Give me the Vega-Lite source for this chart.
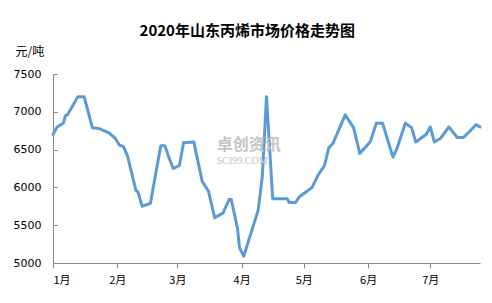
{
  "$schema": "https://vega.github.io/schema/vega-lite/v6.json",
  "width": 427,
  "height": 189,
  "autosize": {"type": "none"},
  "padding": {"left": 53, "top": 74, "right": 12, "bottom": 40},
  "background": "white",
  "title": {
    "text": "2020年山东丙烯市场价格走势图",
    "font": "Noto Sans CJK SC",
    "fontSize": 15,
    "fontWeight": "bold",
    "color": "#000000",
    "anchor": "middle",
    "frame": "bounds",
    "offset": 8,
    "dy": 2
  },
  "config": {
    "view": {"stroke": null},
    "axis": {"grid": false, "domainColor": "#868686", "tickColor": "#868686", "labelColor": "#000000", "labelFont": "DejaVu Sans", "labelFontSize": 11, "labelOverlap": false}
  },
  "layer": [
    {
      "data": {
        "values": [
          {"date": "2020-01-01", "price": 6700},
          {"date": "2020-01-03", "price": 6800},
          {"date": "2020-01-06", "price": 6850},
          {"date": "2020-01-07", "price": 6950},
          {"date": "2020-01-08", "price": 6960},
          {"date": "2020-01-13", "price": 7200},
          {"date": "2020-01-16", "price": 7200},
          {"date": "2020-01-17", "price": 7100},
          {"date": "2020-01-20", "price": 6790},
          {"date": "2020-01-23", "price": 6780},
          {"date": "2020-01-28", "price": 6720},
          {"date": "2020-01-31", "price": 6650},
          {"date": "2020-02-02", "price": 6560},
          {"date": "2020-02-04", "price": 6540},
          {"date": "2020-02-06", "price": 6410},
          {"date": "2020-02-10", "price": 5960},
          {"date": "2020-02-11", "price": 5940},
          {"date": "2020-02-13", "price": 5750},
          {"date": "2020-02-17", "price": 5790},
          {"date": "2020-02-20", "price": 6250},
          {"date": "2020-02-22", "price": 6550},
          {"date": "2020-02-24", "price": 6550},
          {"date": "2020-02-26", "price": 6390},
          {"date": "2020-02-28", "price": 6250},
          {"date": "2020-03-02", "price": 6290},
          {"date": "2020-03-04", "price": 6590},
          {"date": "2020-03-09", "price": 6600},
          {"date": "2020-03-10", "price": 6460},
          {"date": "2020-03-13", "price": 6080},
          {"date": "2020-03-16", "price": 5950},
          {"date": "2020-03-19", "price": 5600},
          {"date": "2020-03-23", "price": 5660},
          {"date": "2020-03-26", "price": 5840},
          {"date": "2020-03-27", "price": 5840},
          {"date": "2020-03-30", "price": 5460},
          {"date": "2020-03-31", "price": 5200},
          {"date": "2020-04-02", "price": 5090},
          {"date": "2020-04-09", "price": 5700},
          {"date": "2020-04-11", "price": 6150},
          {"date": "2020-04-13", "price": 7200},
          {"date": "2020-04-16", "price": 5850},
          {"date": "2020-04-23", "price": 5850},
          {"date": "2020-04-24", "price": 5800},
          {"date": "2020-04-27", "price": 5800},
          {"date": "2020-04-29", "price": 5880},
          {"date": "2020-05-02", "price": 5940},
          {"date": "2020-05-05", "price": 6000},
          {"date": "2020-05-08", "price": 6170},
          {"date": "2020-05-11", "price": 6290},
          {"date": "2020-05-13", "price": 6520},
          {"date": "2020-05-15", "price": 6580},
          {"date": "2020-05-21", "price": 6960},
          {"date": "2020-05-25", "price": 6790},
          {"date": "2020-05-28", "price": 6450},
          {"date": "2020-05-31", "price": 6540},
          {"date": "2020-06-02", "price": 6600},
          {"date": "2020-06-05", "price": 6850},
          {"date": "2020-06-08", "price": 6850},
          {"date": "2020-06-13", "price": 6400},
          {"date": "2020-06-15", "price": 6520},
          {"date": "2020-06-19", "price": 6850},
          {"date": "2020-06-22", "price": 6790},
          {"date": "2020-06-24", "price": 6600},
          {"date": "2020-06-29", "price": 6700},
          {"date": "2020-07-01", "price": 6800},
          {"date": "2020-07-03", "price": 6600},
          {"date": "2020-07-06", "price": 6650},
          {"date": "2020-07-10", "price": 6800},
          {"date": "2020-07-14", "price": 6660},
          {"date": "2020-07-17", "price": 6660},
          {"date": "2020-07-20", "price": 6740},
          {"date": "2020-07-23", "price": 6830},
          {"date": "2020-07-25", "price": 6800}
        ]
      },
      "mark": {"type": "line", "color": "#5B9BD5", "strokeWidth": 3, "strokeJoin": "round", "strokeCap": "round"},
      "encoding": {
        "x": {
          "field": "date",
          "type": "temporal",
          "scale": {
            "type": "utc",
            "domain": [
              {"year": 2020, "month": 1, "date": 1, "utc": true},
              {"year": 2020, "month": 7, "date": 25, "utc": true}
            ]
          },
          "axis": {
            "title": null,
            "values": [
              {"year": 2020, "month": 1, "date": 1, "utc": true},
              {"year": 2020, "month": 2, "date": 1, "utc": true},
              {"year": 2020, "month": 3, "date": 1, "utc": true},
              {"year": 2020, "month": 4, "date": 1, "utc": true},
              {"year": 2020, "month": 5, "date": 1, "utc": true},
              {"year": 2020, "month": 6, "date": 1, "utc": true},
              {"year": 2020, "month": 7, "date": 1, "utc": true}
            ],
            "labelExpr": "(utcmonth(datum.value) + 1) + '月'",
            "tickSize": 5,
            "labelPadding": 6,
            "labelFont": "Noto Sans CJK SC"
          }
        },
        "y": {
          "field": "price",
          "type": "quantitative",
          "scale": {"domain": [5000, 7500], "nice": false, "zero": false},
          "axis": {
            "values": [5000, 5500, 6000, 6500, 7000, 7500],
            "tickCount": 6,
            "labelOverlap": false,
            "labelFlush": false,
            "format": "d",
            "tickSize": -4,
            "labelPadding": 16,
            "title": "元/吨",
            "titleAngle": 0,
            "titleAlign": "left",
            "titleBaseline": "middle",
            "titleX": -38,
            "titleY": -23,
            "titleFont": "Noto Sans CJK SC",
            "titleFontSize": 12,
            "titleFontWeight": "normal",
            "titleColor": "#000000"
          }
        }
      }
    },
    {
      "data": {"values": [{"date": "2020-03-20", "price": 6560, "label": "卓创资讯"}]},
      "mark": {"type": "text", "align": "left", "baseline": "middle", "font": "Noto Sans CJK SC", "fontSize": 16, "letterSpacing": 5, "fontWeight": "bold", "color": "#c4c4c4"},
      "encoding": {
        "x": {"field": "date", "type": "temporal"},
        "y": {"field": "price", "type": "quantitative"},
        "text": {"field": "label"}
      }
    },
    {
      "data": {"values": [{"date": "2020-03-20", "price": 6345, "label": "SCI99.COM"}]},
      "mark": {"type": "text", "align": "left", "baseline": "middle", "font": "Liberation Serif", "fontSize": 10, "letterSpacing": 3, "color": "#c4c4c4"},
      "encoding": {
        "x": {"field": "date", "type": "temporal"},
        "y": {"field": "price", "type": "quantitative"},
        "text": {"field": "label"}
      }
    }
  ]
}
